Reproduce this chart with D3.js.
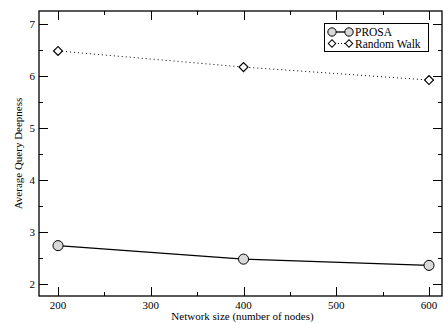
<!DOCTYPE html>
<html>
<head>
<meta charset="utf-8">
<script src="https://cdn.jsdelivr.net/npm/d3@7"></script>
<style>
  body { margin: 0; background: #fff; }
  text { font-family: "Liberation Serif", "Times New Roman", serif; fill: #000; }
</style>
</head>
<body>
<div id="chart"></div>
<script>
var sizes = [200, 400, 600];
var prosa = [2.73, 2.47, 2.35];
var randomWalk = [6.48, 6.17, 5.92];
var xTicks = [200, 300, 400, 500, 600];
var yTicks = [2, 3, 4, 5, 6, 7];

var W = 443, H = 323;
var plotL = 39, plotR = 442, plotT = 11, plotB = 296;

var svg = d3.select("#chart").append("svg")
    .attr("width", W).attr("height", H);

var x = d3.scaleLinear().domain([179.5, 614]).range([plotL, plotR]);
var y = d3.scaleLinear().domain([1.76, 7.25]).range([plotB, plotT]);

var minorX = d3.range(200, 650, 50).filter(function(v){ return v % 100 != 0; });
var minorY = d3.range(2.5, 7.5, 1);

// frame
svg.append("rect")
    .attr("x", plotL).attr("y", plotT)
    .attr("width", plotR - plotL).attr("height", plotB - plotT)
    .attr("fill", "none").attr("stroke", "#000").attr("stroke-width", 1.3);

var ticks = svg.append("g").attr("stroke", "#000").attr("stroke-width", 1);
function xt(vals, len) {
    vals.forEach(function(v) {
        var px = Math.round(x(v)) + 0.5;
        ticks.append("line").attr("x1", px).attr("x2", px).attr("y1", plotB).attr("y2", plotB - len);
        ticks.append("line").attr("x1", px).attr("x2", px).attr("y1", plotT).attr("y2", plotT + len);
    });
}
function yt(vals, len) {
    vals.forEach(function(v) {
        var py = Math.round(y(v)) + 0.5;
        ticks.append("line").attr("y1", py).attr("y2", py).attr("x1", plotL).attr("x2", plotL + len);
        ticks.append("line").attr("y1", py).attr("y2", py).attr("x1", plotR).attr("x2", plotR - len);
    });
}
xt(xTicks, 9); xt(minorX, 4);
yt(yTicks, 9); yt(minorY, 4);

svg.append("g").selectAll("text").data(xTicks).enter().append("text")
    .attr("x", function(d){ return x(d); })
    .attr("y", 309)
    .attr("text-anchor", "middle")
    .attr("font-size", 11)
    .text(function(d){ return d; });

svg.append("g").selectAll("text").data(yTicks).enter().append("text")
    .attr("x", 35)
    .attr("y", function(d){ return y(d) + 4; })
    .attr("text-anchor", "end")
    .attr("font-size", 11)
    .text(function(d){ return d; });

svg.append("text")
    .attr("x", (plotL + plotR) / 2 + 2)
    .attr("y", 320)
    .attr("text-anchor", "middle")
    .attr("font-size", 11)
    .text("Network size (number of nodes)");

svg.append("text")
    .attr("transform", "translate(22," + ((plotT + plotB) / 2) + ") rotate(-90)")
    .attr("text-anchor", "middle")
    .attr("font-size", 11)
    .text("Average Query Deepness");

var line = d3.line()
    .x(function(d){ return x(d[0]); })
    .y(function(d){ return y(d[1]); });

var prosaPts = sizes.map(function(s, i){ return [s, prosa[i]]; });
var rwPts = sizes.map(function(s, i){ return [s, randomWalk[i]]; });

svg.append("path").datum(prosaPts)
    .attr("d", line).attr("fill", "none")
    .attr("stroke", "#000").attr("stroke-width", 1.3);

svg.append("path").datum(rwPts)
    .attr("d", line).attr("fill", "none")
    .attr("stroke", "#000").attr("stroke-width", 1)
    .attr("stroke-dasharray", "1,3");

var circ = d3.symbol().type(d3.symbolCircle).size(80);
var diam = d3.symbol().type(d3.symbolSquare).size(40);

svg.append("g").selectAll("path").data(prosaPts).enter().append("path")
    .attr("d", circ)
    .attr("transform", function(d){ return "translate(" + x(d[0]) + "," + y(d[1]) + ")"; })
    .attr("fill", "#d9d9d9").attr("stroke", "#000").attr("stroke-width", 1);

svg.append("g").selectAll("path").data(rwPts).enter().append("path")
    .attr("d", diam)
    .attr("transform", function(d){ return "translate(" + x(d[0]) + "," + y(d[1]) + ") rotate(45)"; })
    .attr("fill", "#fff").attr("stroke", "#000").attr("stroke-width", 1.2);

// legend
var lg = svg.append("g");
lg.append("rect")
    .attr("x", 324.5).attr("y", 23.5).attr("width", 104).attr("height", 28)
    .attr("fill", "#fff").attr("stroke", "#000").attr("stroke-width", 1);

var lcirc = d3.symbol().type(d3.symbolCircle).size(55);
var ldiam = d3.symbol().type(d3.symbolSquare).size(28);
var entries = [
    { name: "PROSA", sym: lcirc, rot: 0, fill: "#d9d9d9", dash: null, w: 1.3 },
    { name: "Random Walk", sym: ldiam, rot: 45, fill: "#fff", dash: "1,2", w: 1 }
];
entries.forEach(function(e, i) {
    var cy = 32 + i * 11.5;
    lg.append("line").attr("x1", 332).attr("x2", 349).attr("y1", cy).attr("y2", cy)
        .attr("stroke", "#000").attr("stroke-width", e.w)
        .attr("stroke-dasharray", e.dash);
    [332, 349].forEach(function(cx) {
        lg.append("path").attr("d", e.sym)
            .attr("transform", "translate(" + cx + "," + cy + ") rotate(" + e.rot + ")")
            .attr("fill", e.fill).attr("stroke", "#000");
    });
    lg.append("text").attr("x", 355).attr("y", cy + 4)
        .attr("font-size", 11.5).text(e.name);
});
</script>
</body>
</html>
